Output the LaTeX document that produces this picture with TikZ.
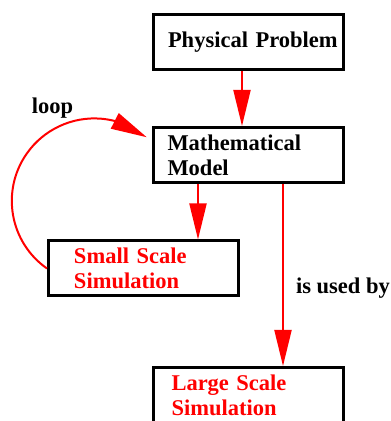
\documentclass[tikz,border=0pt]{standalone}
\usepackage{fontspec}
\setmainfont{Liberation Serif}
\usetikzlibrary{arrows.meta, bending}
\definecolor{cred}{HTML}{FF0000}
\tikzset{
  every picture/.style={font=\fontsize{22.5}{25}\selectfont\bfseries},
  box/.style={draw=black, line width=3pt, minimum width=190pt, minimum height=55pt, inner xsep=0pt, text width=190pt, align=left, execute at begin node={\leftskip=#1\relax}},
  box/.default=14.5pt,
  arrow/.style={-{Triangle[length=36pt, width=17pt]}, draw=cred, line width=2pt},
  note/.style={inner sep=0pt},
}

\begin{document}
\begin{tikzpicture}[x=1pt, y=1pt]
  \useasboundingbox (0,0) rectangle (391,421);
  \node[box] (pp) at (248.5,379) {Physical Problem};
  \node[box] (mm) at (248,266) {Mathematical\\Model};
  \node[box=25.5pt, text=cred] (ss) at (143.5,152.5) {Small Scale\\Simulation};
  \node[box=18.5pt, text=cred] (ls) at (248,26) {Large Scale\\Simulation};
  % arrows down
  \draw[arrow] ([xshift=-6.5pt]pp.south) -- ([xshift=-6.5pt]pp.south |- mm.north);
  \draw[arrow] ([xshift=-50pt]mm.south) -- ([xshift=-50pt]mm.south |- ss.north);
  \draw[arrow] ([xshift=35pt]mm.south) -- node[note, pos=0.573, anchor=west, xshift=12pt] (used) {is used by} ([xshift=35pt]mm.south |- ls.north);
  % loop back
  \draw[arrow, -{Triangle[length=36pt, width=17pt, flex]}] (ss.west) arc[start angle=235, end angle=50.5, radius=82.5];
  \node[note] (loop) at (52.5,312.5) {loop};
\end{tikzpicture}
\end{document}
